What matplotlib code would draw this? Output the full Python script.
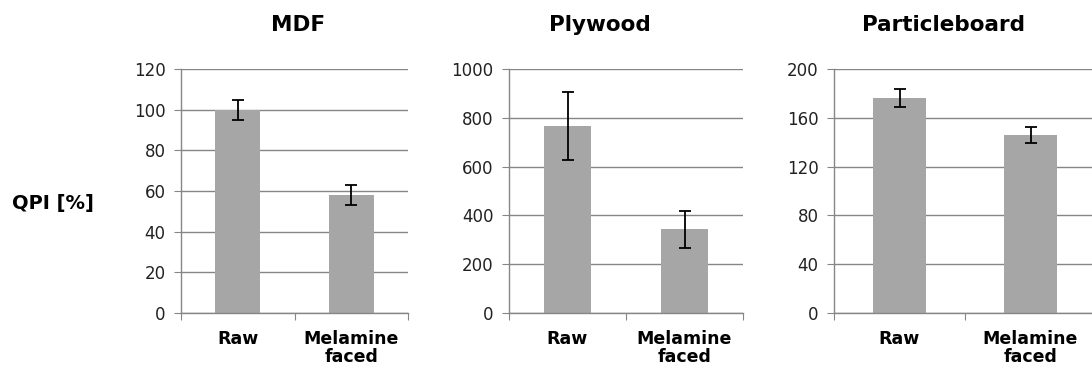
import numpy as np
import matplotlib.pyplot as plt

# QPI of raw vs melamine faced boards
boards = ["MDF", "Plywood", "Particleboard"]
categories = ["Raw", "Melamine\nfaced"]
qpi_mean = [[100, 58], [766, 344], [176, 146]]
qpi_err = [[5, 5], [140, 76], [7.5, 6.5]]
y_ticks = [np.arange(0, 121, 20), np.arange(0, 1001, 200), np.arange(0, 201, 40)]

W, H = 1092, 371
fig = plt.figure(figsize=(W / 100, H / 100), dpi=100)

# axes boxes in pixels: left, width (bottom/top shared)
boxes = [(181, 227), (509, 234), (834, 262)]
titles_x = [298, 600, 943]
y_bot, y_top = 313, 69

grid_c = "#868686"
bar_c = "#a6a6a6"

for i, name in enumerate(boards):
    left, width = boxes[i]
    ax = fig.add_axes([left / W, (H - y_bot) / H, width / W, (y_bot - y_top) / H])
    x = np.arange(len(categories)) + 0.5
    ax.bar(x, qpi_mean[i], width=0.4, color=bar_c, zorder=2)
    ax.errorbar(x, qpi_mean[i], yerr=qpi_err[i], fmt="none", ecolor="black",
                elinewidth=1.3, capsize=4, capthick=1.3, zorder=3)
    ax.set_xlim(0, 2)
    ax.set_ylim(y_ticks[i][0], y_ticks[i][-1])
    ax.set_yticks(y_ticks[i])
    ax.yaxis.grid(True, color=grid_c, linewidth=1.0, zorder=1)
    ax.set_axisbelow(True)
    ax.set_xticks([0, 1, 2])
    ax.set_xticklabels([])
    ax.set_xticks(x, minor=True)
    ax.set_xticklabels(categories, minor=True, fontsize=12.5, fontweight="bold",
                       linespacing=1.0)
    ax.tick_params(axis="x", which="minor", length=0, pad=12)
    ax.tick_params(axis="x", which="major", length=5, color=grid_c, direction="out")
    ax.tick_params(axis="y", length=5, color=grid_c, labelsize=12,
                   labelcolor="#222222", pad=6)
    for s in ["top", "right"]:
        ax.spines[s].set_visible(False)
    for s in ["left", "bottom"]:
        ax.spines[s].set_color(grid_c)
        ax.spines[s].set_linewidth(1.0)
    fig.text(titles_x[i] / W, 1 - 25 / H, name, ha="center", va="center",
             fontsize=15.5, fontweight="bold")

fig.text(53 / W, 1 - 203 / H, "QPI [%]", ha="center", va="center",
         fontsize=14, fontweight="bold")

fig.savefig("out.png", dpi=100)
